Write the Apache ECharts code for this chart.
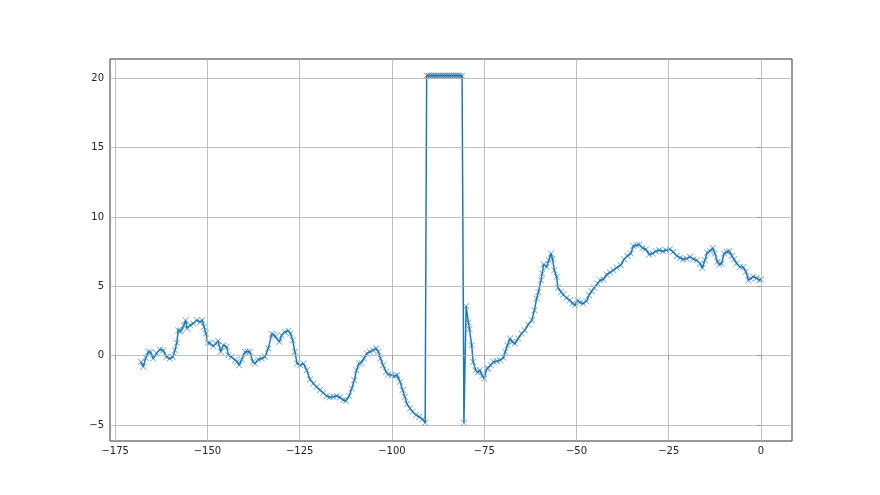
<!DOCTYPE html>
<html>
<head>
<meta charset="utf-8">
<script src="https://cdn.jsdelivr.net/npm/echarts@6/dist/echarts.min.js"></script>
<style>
html,body{margin:0;padding:0;background:#fff;}
#chart{width:880px;height:495px;}
</style>
</head>
<body>
<div id="chart"></div>
<script>
var xTicks = [-175, -150, -125, -100, -75, -50, -25, 0];
var yTicks = [-5, 0, 5, 10, 15, 20];

var xs = [
-168.0,-167.4,-166.7,-166.0,-165.4,-164.7,-163.8,-162.9,-162.0,-161.1,-160.2,-159.4,-158.8,-158.3,-157.9,-157.5,-157.1,-156.4,-155.9,-155.5,
-154.7,-153.8,-152.9,-152.0,-151.4,-150.9,-150.4,-149.9,-149.3,-148.4,-147.7,-147.1,-146.4,-145.7,-144.8,-144.3,-143.5,-142.5,-141.9,-141.4,
-140.7,-139.8,-139.1,-138.5,-137.7,-137.1,-136.2,-135.3,-134.4,-133.5,-132.6,-132.0,-131.5,-130.5,-129.9,-129.0,-128.1,-127.5,-126.9,-126.3,
-125.7,-124.9,-124.0,-123.1,-122.2,-121.3,-120.4,-119.5,-118.6,-117.7,-116.8,-115.9,-115.0,-114.1,-113.2,-112.5,-111.6,-110.9,-110.2,-109.6,
-108.9,-108.3,-107.6,-106.8,-106.0,-105.1,-104.3,-103.7,-103.1,-102.4,-101.6,-101.0,-100.1,-99.2,-98.6,-97.8,-97.1,-96.5,-95.9,-95.1,
-94.4,-93.5,-92.6,-91.7,-91.0,
-90.6,-90.1,-89.6,-89.1,-88.6,-88.1,-87.6,-87.1,-86.6,-86.1,-85.6,-85.1,-84.6,-84.1,-83.6,-83.1,-82.6,-82.1,-81.6,-81.0,
-80.5,-79.9,-79.3,-79.0,-78.4,-78.0,-77.3,-76.8,-76.2,-75.5,-75.0,-74.3,-73.9,-73.2,-72.5,-71.6,-70.7,-69.8,-69.3,-68.7,
-68.0,-67.4,-66.7,-65.8,-64.9,-64.0,-63.1,-62.1,-61.4,-60.8,-60.3,-59.6,-59.3,-58.9,-58.1,-57.5,-56.9,-56.5,-56.0,-55.4,
-55.0,-54.2,-53.6,-52.7,-51.8,-51.1,-50.4,-49.7,-49.1,-48.2,-47.3,-46.6,-45.9,-45.2,-44.3,-43.6,-42.7,-41.8,-40.9,-40.0,
-39.1,-38.0,-37.1,-36.2,-35.3,-34.6,-33.7,-33.0,-32.1,-31.2,-30.3,-29.4,-28.5,-27.6,-26.6,-25.7,-24.7,-23.8,-22.8,-21.9,
-21.1,-20.2,-19.2,-18.3,-17.4,-16.5,-15.9,-15.2,-14.6,-13.8,-13.1,-12.5,-11.8,-11.3,-10.7,-10.0,-9.3,-8.6,-7.9,-7.3,
-6.6,-5.7,-4.8,-4.1,-3.4,-2.8,-2.1,-1.2,-0.5,0.0
];

var ys = [
-0.44,-0.80,-0.15,0.28,0.25,-0.20,0.17,0.45,0.40,-0.08,-0.20,-0.10,0.40,0.93,1.84,1.76,1.80,2.20,2.56,1.97,
2.20,2.33,2.56,2.44,2.56,2.08,1.60,0.93,0.90,0.69,0.88,1.07,0.28,0.76,0.64,0.04,-0.08,-0.32,-0.44,-0.68,
-0.27,0.28,0.30,0.28,-0.44,-0.56,-0.27,-0.20,-0.08,0.53,1.56,1.50,1.40,1.00,1.48,1.72,1.80,1.60,1.12,0.28,
-0.56,-0.68,-0.56,-1.04,-1.71,-2.00,-2.24,-2.48,-2.67,-2.91,-3.00,-2.96,-2.91,-3.00,-3.20,-3.25,-2.91,-2.36,-1.76,-1.04,
-0.56,-0.50,-0.20,0.16,0.28,0.40,0.53,0.28,-0.20,-0.68,-1.16,-1.35,-1.40,-1.47,-1.40,-1.88,-2.48,-2.96,-3.49,-3.80,
-4.04,-4.28,-4.40,-4.59,-4.83,
20.2,20.2,20.2,20.2,20.2,20.2,20.2,20.2,20.2,20.2,20.2,20.2,20.2,20.2,20.2,20.2,20.2,20.2,20.2,20.2,
-4.83,3.57,2.40,1.92,0.76,-0.44,-1.04,-1.20,-1.04,-1.45,-1.64,-0.92,-0.90,-0.68,-0.44,-0.39,-0.32,-0.15,0.28,0.76,
1.24,1.00,0.88,1.24,1.60,1.84,2.25,2.56,3.28,4.13,4.60,5.45,5.93,6.60,6.40,6.89,7.37,7.00,6.17,5.69,
4.90,4.60,4.42,4.17,4.00,3.77,3.65,4.00,3.84,3.77,3.93,4.37,4.65,4.90,5.20,5.45,5.50,5.86,6.00,6.17,
6.35,6.53,6.96,7.20,7.37,7.92,7.97,8.02,7.77,7.68,7.30,7.37,7.54,7.60,7.54,7.60,7.68,7.49,7.20,7.05,
6.96,7.00,7.13,6.96,6.89,6.65,6.33,6.89,7.44,7.54,7.77,7.37,6.77,6.58,6.65,7.37,7.49,7.54,7.20,6.96,
6.65,6.40,6.40,6.05,5.45,5.57,5.69,5.61,5.45,5.50
];

var points = xs.map(function (x, i) { return [x, ys[i]]; });

function fmt(v) { return String(v).replace('-', '\u2212'); }

var gridLines = xTicks.map(function (v) { return {xAxis: v}; })
  .concat(yTicks.map(function (v) { return {yAxis: v}; }));

var chart = echarts.init(document.getElementById('chart'), null, {renderer: 'canvas'});
var xMark = 'path://M0,0.8L0.8,0L5,4.2L9.2,0L10,0.8L5.8,5L10,9.2L9.2,10L5,5.8L0.8,10L0,9.2L4.2,5Z';
var tickFont = {color: '#222', fontSize: 10, fontFamily: 'DejaVu Sans'};

chart.setOption({
  animation: false,
  backgroundColor: '#fff',
  grid: {left: 110, right: 88, top: 59, bottom: 54, show: true, borderColor: '#333', borderWidth: 1, backgroundColor: 'transparent'},
  xAxis: {
    type: 'value', min: -176.4, max: 8.4,
    axisLine: {show: false},
    axisTick: {show: true, inside: false, length: 4, lineStyle: {color: '#333'}, customValues: xTicks},
    axisLabel: Object.assign({show: true, margin: 5, formatter: fmt, customValues: xTicks}, tickFont),
    splitLine: {show: false}
  },
  yAxis: {
    type: 'value', min: -6.15, max: 21.4,
    axisLine: {show: false},
    axisTick: {show: true, inside: false, length: 4, lineStyle: {color: '#333'}, customValues: yTicks},
    axisLabel: Object.assign({show: true, margin: 6, formatter: fmt, customValues: yTicks}, tickFont),
    splitLine: {show: false}
  },
  series: [{
    type: 'scatter',
    data: [],
    silent: true,
    z: 1,
    markLine: {
      silent: true,
      symbol: ['none', 'none'],
      label: {show: false},
      lineStyle: {color: '#b0b0b0', width: 0.8, type: 'solid'},
      emphasis: {disabled: true},
      animation: false,
      data: gridLines
    }
  }, {
    type: 'line',
    data: points,
    showSymbol: true,
    showAllSymbol: true,
    symbol: xMark,
    symbolSize: 6.5,
    lineStyle: {color: '#1f77b4', width: 1.5},
    itemStyle: {color: '#1f77b4', opacity: 0.7},
    z: 3
  }]
});
</script>
</body>
</html>
